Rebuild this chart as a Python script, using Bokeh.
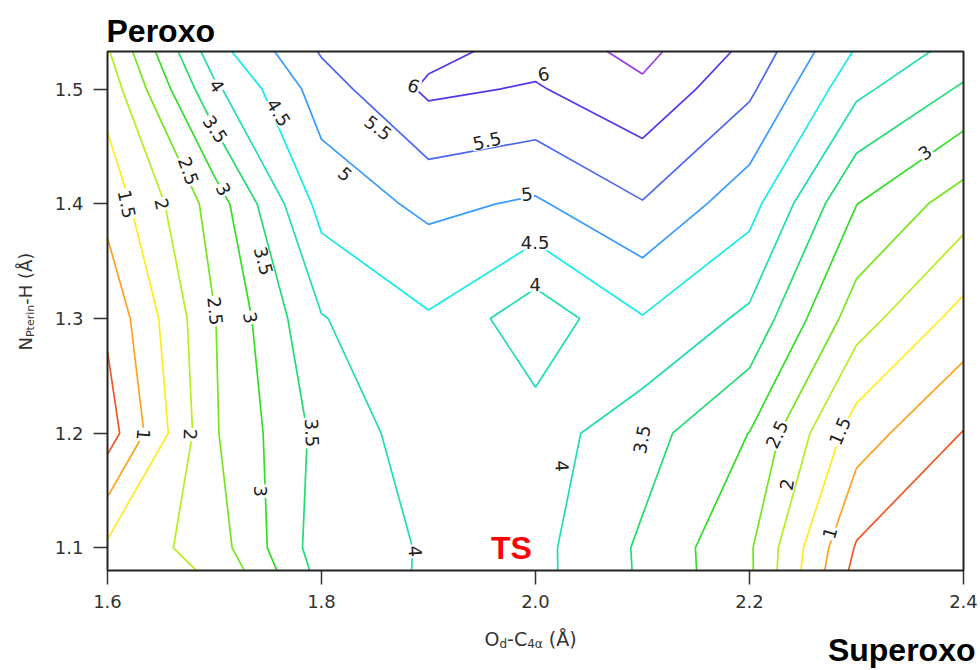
import numpy as np
from bokeh.plotting import figure
from bokeh.models import Range1d, FixedTicker, ColumnDataSource, PrintfTickFormatter, BoxAnnotation
from bokeh.embed import file_html
from bokeh.resources import INLINE
from bokeh.core.properties import value

# ---------------- data (energy surface) ----------------
od_c4a = [1.6, 1.7, 1.8, 1.9, 2.0, 2.1, 2.2, 2.3, 2.4]          # O_d-C_4a (A)
n_pterin_h = [1.08, 1.1, 1.2, 1.3, 1.4, 1.5, 1.533]              # N_Pterin-H (A)

e_row_108 = [1.80, 2.04, 3.68, 4.06, 4.15, 3.43, 2.58, 0.33, -0.20]
e_row_110 = [1.60, 2.25, 3.77, 4.04, 4.15, 3.42, 2.57, 0.45, 0.00]
e_row_120 = [0.25, 2.45, 3.66, 4.27, 4.22, 3.70, 2.99, 1.24, 0.48]
e_row_130 = [0.60, 2.48, 3.97, 4.45, 3.67, 4.47, 3.89, 2.23, 1.31]
e_row_140 = [1.17, 2.72, 4.68, 5.12, 4.93, 5.47, 4.69, 3.01, 2.25]
e_row_150 = [1.70, 3.90, 5.25, 6.10, 5.95, 6.40, 5.60, 4.12, 3.43]
e_row_153 = [1.95, 4.30, 5.55, 5.85, 6.20, 6.65, 5.87, 4.45, 3.80]

levels = [0.5, 1.0, 1.5, 2.0, 2.5, 3.0, 3.5, 4.0, 4.5, 5.0, 5.5, 6.0, 6.5]

x_ticks = [1.6, 1.8, 2.0, 2.2, 2.4]
y_ticks = [1.1, 1.2, 1.3, 1.4, 1.5]

# contour labels
lab_text = ["1.5", "2", "2.5", "3", "3.5", "4", "4.5", "5", "5.5",
            "3.5", "2.5", "3", "1", "2", "3", "3.5", "4", "4",
            "3.5", "2.5", "2", "1.5", "1", "3",
            "6", "6", "5.5", "5", "4.5", "4"]

# ---------------- styling / annotation placement ----------------
level_colors = ["#ef5a24", "#ffa21e", "#ffec1e", "#b6ee1e", "#74e61e", "#33de26",
                "#22dd70", "#22ddb4", "#14ecec", "#389cff", "#4c68f0", "#5834ec", "#9a3cec"]

lab_x = [1.6181, 1.6508, 1.6757, 1.7084, 1.7007, 1.7022, 1.7598, 1.8221, 1.8530,
         1.7458, 1.7007, 1.7334, 1.6336, 1.6773, 1.7427, 1.7910, 1.8876, 2.0247,
         2.0994, 2.2257, 2.2350, 2.2844, 2.2751, 2.3641,
         1.8860, 2.0075, 1.9546, 1.9920, 1.9997, 1.9997]
lab_y = [1.3997, 1.3997, 1.4287, 1.4127, 1.4651, 1.5029, 1.4796, 1.4258, 1.4662,
         1.3502, 1.3065, 1.3007, 1.1989, 1.1989, 1.1495, 1.2003, 1.0971, 1.1713,
         1.1946, 1.1990, 1.1553, 1.2018, 1.1131, 1.4447,
         1.5029, 1.5131, 1.4549, 1.4084, 1.3661, 1.3300]
lab_angle = [-78, -77, -70, -61, -56, -56, -58, -41, -37,
             -75, -84, -78, -95, -92, -90, -87, -86, -86,
             80, 65, 80, 67, 74, 36,
             -20, 12, 13, 7, 0, 0]

# plotted box (axes extent) and its place on the canvas
X0, X1 = 1.6, 2.4
Y0, Y1 = 1.0803, 1.5328
PX_LEFT, PX_TOP, FW, FH = 107, 51, 856, 519
CW, CH = 978, 668
xscale = FW / (X1 - X0)
yscale = FH / (Y1 - Y0)
x_start = X0 - PX_LEFT / xscale
x_end = x_start + CW / xscale
y_end = Y1 + PX_TOP / yscale
y_start = y_end - CH / yscale

def cx(px):  # canvas pixel -> data x
    return x_start + px / xscale

def cy(py):  # canvas pixel -> data y
    return y_end - py / yscale

p = figure(frame_width=CW, frame_height=CH, min_border=0,
           x_range=Range1d(x_start, x_end), y_range=Range1d(y_start, y_end),
           output_backend="svg", toolbar_location=None, tools="")
p.background_fill_color = "white"
p.border_fill_color = "white"
p.outline_line_color = None
p.xgrid.grid_line_color = None
p.ygrid.grid_line_color = None

Z = np.array([e_row_108, e_row_110, e_row_120, e_row_130, e_row_140, e_row_150, e_row_153])
p.contour(np.array(od_c4a), np.array(n_pterin_h), Z, levels,
          line_color=level_colors, line_width=1.7)

src = ColumnDataSource(dict(x=lab_x, y=lab_y, text=lab_text, angle=lab_angle))
p.text(x="x", y="y", text="text", angle="angle", angle_units="deg", source=src,
       text_font=value("DejaVu Sans"), text_font_size="18px", text_color="#222222",
       text_align="center", text_baseline="middle",
       background_fill_color="white", padding=1)

# frame box
p.add_layout(BoxAnnotation(left=X0, right=X1, bottom=Y0, top=Y1, fill_alpha=0,
                           line_color="#222222", line_alpha=1.0, line_width=2))

p.xaxis.fixed_location = Y0
p.yaxis.fixed_location = X0
p.xaxis.bounds = (X0, X1)
p.yaxis.bounds = (Y0, Y1)
for ax, ticks in ((p.xaxis, x_ticks), (p.yaxis, y_ticks)):
    ax.ticker = FixedTicker(ticks=ticks)
    ax.formatter = PrintfTickFormatter(format="%.1f")
    ax.major_tick_out = 14
    ax.major_tick_in = 0
    ax.minor_tick_line_color = None
    ax.major_tick_line_color = "#333333"
    ax.major_tick_line_width = 1.5
    ax.axis_line_color = None
    ax.major_label_text_font = "DejaVu Sans"
    ax.major_label_text_font_size = "18px"
    ax.major_label_text_color = "#333333"
    ax.major_label_standoff = 10

def put(text, px, py, size, font="DejaVu Sans", color="#333333", bold=False,
        align="left", angle=0):
    p.text(x=[cx(px)], y=[cy(py)], text=[text], angle=angle, angle_units="deg",
           text_font=value(font), text_font_size=f"{size}px", text_color=color,
           text_font_style="bold" if bold else "normal",
           text_align=align, text_baseline="middle")

w = {"O": 0.787, "d": 0.635, "-": 0.361, "C": 0.698, "4": 0.636, "α": 0.659,
     " ": 0.318, "(": 0.390, "Å": 0.684, ")": 0.390, "N": 0.748, "H": 0.752,
     "P": 0.603, "t": 0.392, "e": 0.615, "r": 0.411, "i": 0.278, "n": 0.634}
def width(s, size):
    return sum(w[c] for c in s) * size

MID = 0.35  # distance from baseline to the text middle, in em

# x axis title: O_d-C_4alpha (A)   (baseline at canvas y 645, subscripts 3 px lower)
big, small = 19, 12
xpos = 484.0
for txt, sub, lead in (("O", False, 0), ("d", True, 0), ("-C", False, 0),
                       ("4α", True, 0), ("(Å)", False, 1)):
    sz = small if sub else big
    xpos += lead * w[" "] * big
    base = 648 if sub else 645
    put(txt, xpos, base - MID * sz, sz)
    xpos += width(txt, sz)

# y axis title: N_Pterin-H (A)  (rotated, baseline at canvas x 31.5, starts at y 350)
big, small = 18, 11
ypos = 350.0
for txt, sub in (("N", False), ("Pterin", True), ("-H (Å)", False)):
    sz = small if sub else big
    base = 34 if sub else 31.5
    put(txt, base - MID * sz, ypos, sz, angle=90)
    ypos -= width(txt, sz)

put("Peroxo", 106, 42 - MID * 32, 32, font="Liberation Sans", color="black", bold=True)
put("Superoxo", 975, 661 - MID * 32, 32, font="Liberation Sans", color="black", bold=True,
    align="right")
put("TS", 511, 559 - MID * 32, 32, font="Liberation Sans", color="#ff0000", bold=True,
    align="center")

open("out.html", "w").write(file_html(p, INLINE))
